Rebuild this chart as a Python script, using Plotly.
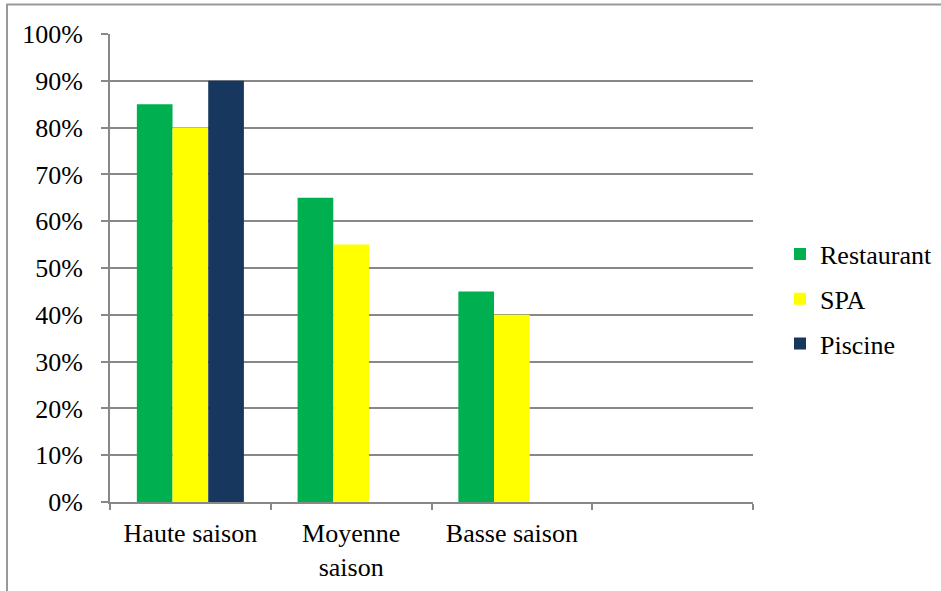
import plotly.graph_objects as go

# Occupancy rate by season for each hotel service
categories = ["Haute saison", "Moyenne<br>saison", "Basse saison", ""]
restaurant = [85, 65, 45]
spa = [80, 55, 40]
piscine = [90, None, None]

series = [
    ("Restaurant", restaurant, "#00B050"),
    ("SPA", spa, "#FFFF00"),
    ("Piscine", piscine, "#17375E"),
]

W, H = 941, 591
L, R, T, B = 110, 188, 34, 89
plot_w = W - L - R
plot_h = H - T - B

FONT = "Liberation Serif, Times New Roman, serif"
FS = 26
GRID = "#888888"

x_pos = list(range(len(categories)))

fig = go.Figure()
for i, (name, vals, color) in enumerate(series):
    fig.add_trace(go.Bar(
        x=x_pos[:len(vals)], y=vals, name=name,
        marker=dict(color=color, line=dict(width=0)),
        legendgroup=name,
    ))

# outer frame (top and left edges)
def px_x(v):
    return (v - L) / plot_w

def px_y(v):
    return 1 - (v - T) / plot_h

fig.add_shape(type="line", xref="paper", yref="paper",
              x0=px_x(6.5), x1=px_x(W + 5), y0=px_y(4.5), y1=px_y(4.5),
              line=dict(color="#999999", width=2))
fig.add_shape(type="line", xref="paper", yref="paper",
              x0=px_x(7), x1=px_x(7), y0=px_y(4), y1=px_y(H + 5),
              line=dict(color="#999999", width=2))

fig.update_layout(
    width=W, height=H,
    margin=dict(l=L, r=R, t=T, b=B, autoexpand=False),
    paper_bgcolor="white", plot_bgcolor="white",
    barmode="group", bargap=0.334, bargroupgap=0,
    font=dict(family=FONT, size=FS, color="black"),
    legend=dict(x=px_x(780), y=px_y(299), xanchor="left", yanchor="middle",
                font=dict(family=FONT, size=FS, color="black"),
                tracegroupgap=8, itemwidth=30),
    xaxis=dict(
        range=[-0.5, len(categories) - 0.5],
        tickvals=x_pos, ticktext=categories,
        ticks="", showgrid=False, zeroline=False,
        showline=True, linecolor=GRID, linewidth=2,
        tickfont=dict(family=FONT, size=FS),
        ticklabelstandoff=7,
        minor=dict(ticks="outside", tick0=-0.5, dtick=1, ticklen=6,
                   tickcolor=GRID, tickwidth=2, showgrid=False),
    ),
    yaxis=dict(
        range=[0, 100], dtick=10, ticksuffix="%",
        showgrid=True, gridcolor=GRID, gridwidth=2,
        zeroline=False,
        showline=True, linecolor=GRID, linewidth=2,
        ticks="outside", ticklen=7, tickcolor=GRID, tickwidth=2,
        tickfont=dict(family=FONT, size=FS),
        ticklabelstandoff=13,
    ),
)

fig.write_html("out.html")
